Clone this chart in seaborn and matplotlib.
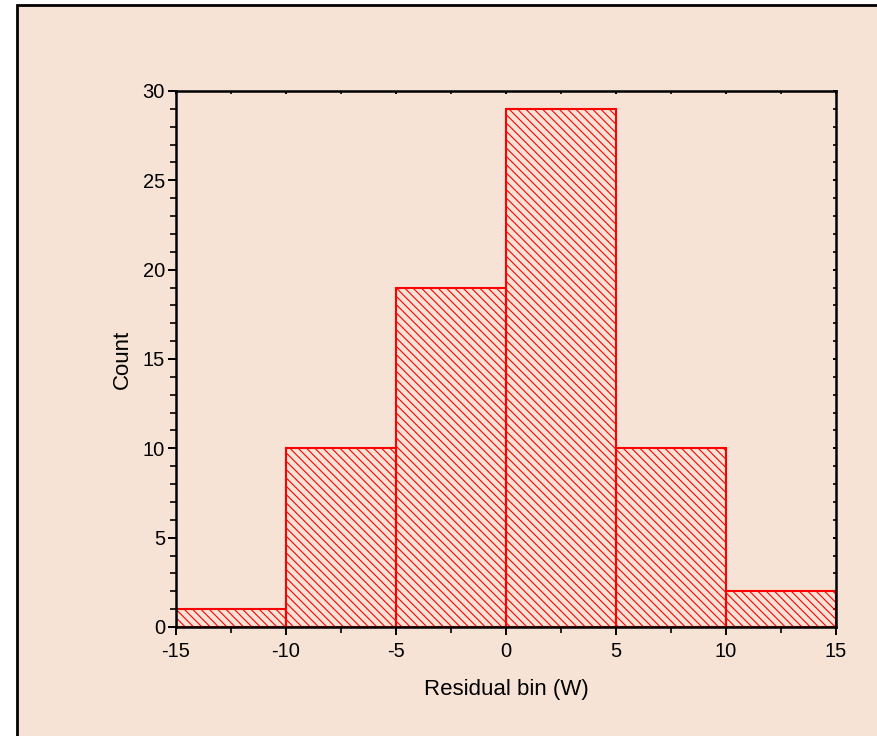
import matplotlib
matplotlib.use("Agg")
import matplotlib.pyplot as plt
from matplotlib.patches import Rectangle
from matplotlib.ticker import MultipleLocator
from matplotlib import lines as mlines
import numpy as np
import pandas as pd
import seaborn as sns

# Residual histogram: bin edges and counts per bin
bin_edges = [-15, -10, -5, 0, 5, 10, 15]
bin_counts = [1, 10, 19, 29, 10, 2]
x_ticks = [-15, -10, -5, 0, 5, 10, 15]
y_ticks = [0, 5, 10, 15, 20, 25, 30]

bin_centers = [(a + b) / 2 for a, b in zip(bin_edges[:-1], bin_edges[1:])]
df = pd.DataFrame({"residual": bin_centers, "count": bin_counts})

sns.set_theme(style="white")
plt.rcParams["font.family"] = ["Liberation Sans", "DejaVu Sans"]
plt.rcParams["hatch.linewidth"] = 0.8
plt.rcParams["axes.unicode_minus"] = False

peach = "#F7E3D5"
fig = plt.figure(figsize=(8.78, 7.36), dpi=100)
fig.patch.set_facecolor("white")

# Framed peach panel behind the plot
panel = Rectangle((17 / 878, -0.01), 1.0, (736 - 5) / 736 + 0.01,
                  transform=fig.transFigure, facecolor=peach,
                  edgecolor="black", linewidth=2.0, zorder=-5)
fig.patches.append(panel)

ax = fig.add_axes([176 / 878, 1 - 627 / 736, (836 - 176) / 878, (627 - 91) / 736])
ax.set_facecolor("none")
ax.set_zorder(2)

sns.histplot(data=df, x="residual", weights="count", bins=bin_edges, ax=ax,
             fill=False, color="red", linewidth=1.5, element="bars")
for p in ax.patches:
    p.set_hatch("\\\\\\\\")
    p.set_edgecolor("red")
    p.set_facecolor("none")

ax.set_xlim(-15, 15)
ax.set_ylim(0, 30)
ax.set_xticks(x_ticks)
ax.set_yticks(y_ticks)
ax.xaxis.set_minor_locator(MultipleLocator(2.5))
ax.yaxis.set_minor_locator(MultipleLocator(1))

for s in ax.spines.values():
    s.set_color("black")
    s.set_linewidth(1.8)
    s.set_visible(True)

ax.tick_params(axis="both", which="major", direction="out", length=6, width=1.4,
               color="black", labelsize=14.5, labelcolor="black",
               bottom=True, left=True, top=True, right=True)
ax.tick_params(axis="x", which="major", pad=5)
ax.tick_params(axis="y", which="major", pad=2)
ax.tick_params(axis="both", which="minor", direction="out", length=4, width=1.2,
               color="black", bottom=True, left=True, top=True, right=True)

# Top and right ticks point inward and are short
for t in ax.xaxis.get_major_ticks() + ax.xaxis.get_minor_ticks():
    t.tick2line.set_marker(mlines.TICKDOWN)
    t.tick2line.set_markersize(2.5)
for t in ax.yaxis.get_major_ticks() + ax.yaxis.get_minor_ticks():
    t.tick2line.set_marker(mlines.TICKLEFT)
    t.tick2line.set_markersize(2.5)

ax.set_xlabel("Residual bin (W)", fontsize=16, color="black", labelpad=13)
ax.set_ylabel("Count", fontsize=16, color="black", labelpad=7)

fig.savefig("out.png", dpi=100)
